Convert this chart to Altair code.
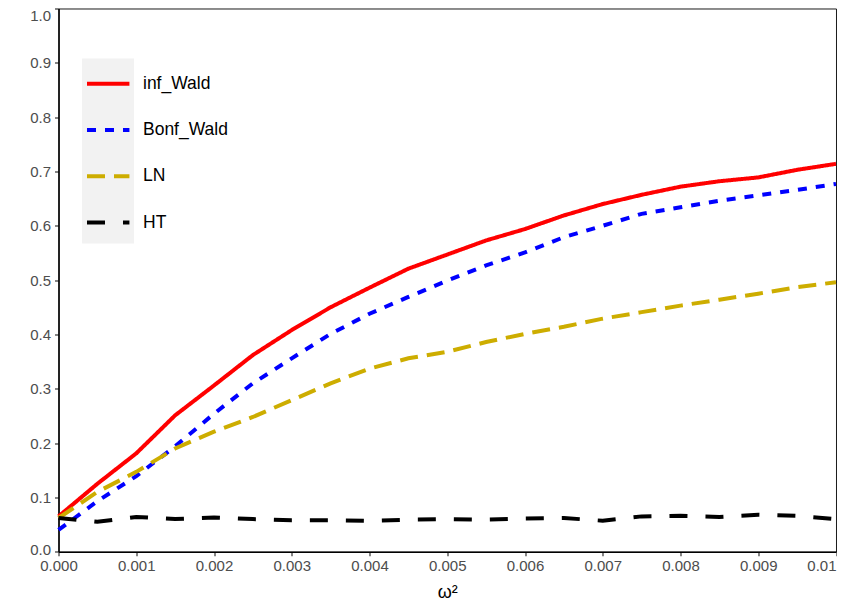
import altair as alt
import pandas as pd

# x grid (omega^2)
omega2 = [0.0, 0.0005, 0.001, 0.0015, 0.002, 0.0025, 0.003, 0.0035, 0.004, 0.0045,
          0.005, 0.0055, 0.006, 0.0065, 0.007, 0.0075, 0.008, 0.0085, 0.009, 0.0095, 0.01]

inf_wald = [0.065, 0.125, 0.181, 0.251, 0.306, 0.362, 0.408, 0.450, 0.486, 0.521, 0.547,
            0.573, 0.594, 0.619, 0.640, 0.657, 0.672, 0.682, 0.689, 0.703, 0.714]
bonf_wald = [0.040, 0.093, 0.139, 0.194, 0.254, 0.310, 0.356, 0.401, 0.438, 0.469, 0.499,
             0.527, 0.551, 0.579, 0.600, 0.622, 0.634, 0.646, 0.656, 0.666, 0.677]
ln = [0.062, 0.110, 0.147, 0.190, 0.221, 0.248, 0.279, 0.310, 0.337, 0.356, 0.368,
      0.386, 0.401, 0.414, 0.429, 0.441, 0.453, 0.464, 0.475, 0.487, 0.496]
ht = [0.062, 0.055, 0.064, 0.060, 0.063, 0.060, 0.058, 0.058, 0.057, 0.059, 0.060,
      0.059, 0.061, 0.062, 0.057, 0.065, 0.066, 0.064, 0.068, 0.066, 0.060]

methods = ["inf_Wald", "Bonf_Wald", "LN", "HT"]
colors = ["#FF0000", "#0000FF", "#CDAD00", "#000000"]
dashes = [[1, 0], [9, 9], [18, 9], [18, 18]]

x_ticks = [0.0, 0.001, 0.002, 0.003, 0.004, 0.005, 0.006, 0.007, 0.008, 0.009, 0.01]
y_ticks = [0.0, 0.1, 0.2, 0.3, 0.4, 0.5, 0.6, 0.7, 0.8, 0.9, 1.0]

rows = []
for name, vals in zip(methods, [inf_wald, bonf_wald, ln, ht]):
    for xv, yv in zip(omega2, vals):
        rows.append({"omega2": xv, "power": yv, "method": name})
df = pd.DataFrame(rows)

FONT = "Liberation Sans"

leg = alt.Legend(
    title=None, orient="none", legendX=26.2, legendY=51.7,
    symbolType="stroke", symbolSize=1800, symbolStrokeWidth=4,
    labelFontSize=17.5, labelFont=FONT, labelColor="black",
    labelOffset=11.3, rowPadding=14.3, padding=0,
)

key_bg = alt.Chart(pd.DataFrame({"k": [0]})).mark_rect(color="#F2F2F2").encode(
    x=alt.value(23.5), x2=alt.value(75.5), y=alt.value(50), y2=alt.value(235)
)

lines = alt.Chart(df).mark_line(strokeWidth=4).encode(
    x=alt.X(
        "omega2:Q",
        scale=alt.Scale(domain=[0, 0.01], nice=False, zero=True),
        axis=alt.Axis(
            values=x_ticks,
            labelExpr="datum.value > 0.0099 ? '0.01' : format(datum.value, '.3f')",
            labelAlign={"condition": {"test": "datum.value > 0.0099", "value": "right"},
                        "value": "center"},
            title="ω²", titleFont=FONT, titleFontSize=18, titleFontWeight="normal",
            titleColor="black", titlePadding=10, labelPadding=3, labelFlush=False,
        ),
    ),
    y=alt.Y(
        "power:Q",
        scale=alt.Scale(domain=[0, 1], nice=False),
        axis=alt.Axis(
            values=y_ticks, format=".1f", title=None, labelPadding=4, labelFlush=False,
            labelBaseline={"condition": {"test": "datum.value > 0.95", "value": "top"},
                           "value": "middle"},
            labelOffset={"condition": {"test": "datum.value < 0.05", "value": -2.5},
                         "value": 0},
        ),
    ),
    color=alt.Color("method:N", scale=alt.Scale(domain=methods, range=colors), legend=leg),
    strokeDash=alt.StrokeDash("method:N", scale=alt.Scale(domain=methods, range=dashes), legend=leg),
)

chart = alt.layer(key_bg, lines).properties(
    width=777.5, height=543.2,
    autosize=alt.AutoSizeParams(type="none"),
    padding={"left": 50.5, "top": 0.5, "right": 1, "bottom": 50},
).configure_view(
    stroke="#1a1a1a", strokeWidth=1
).configure_axis(
    grid=False, domainColor="black", domainWidth=1.5,
    tickColor="#333333", tickSize=4, tickWidth=1.2,
    labelColor="#4D4D4D", labelFont=FONT, labelFontSize=15,
)

chart.save("out.html", embed_options={"renderer": "svg", "actions": False})
